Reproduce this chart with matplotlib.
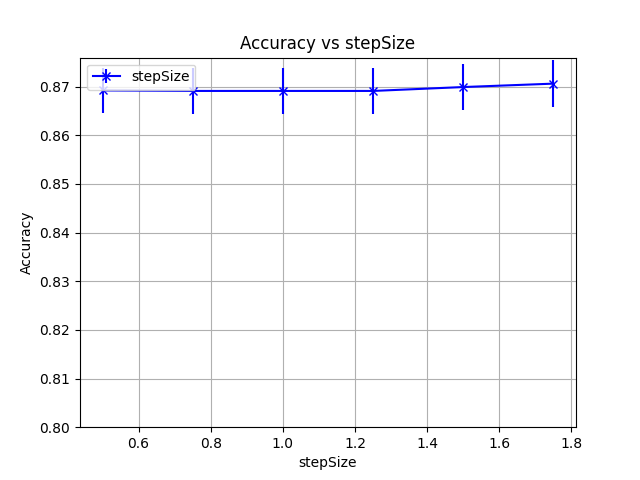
import numpy as np
import matplotlib
matplotlib.use("Agg")
import matplotlib.pyplot as plt

step_size = [0.5, 0.75, 1.0, 1.25, 1.5, 1.75]
accuracy = [0.8692, 0.8691, 0.8691, 0.8691, 0.8699, 0.8706]
acc_std = [0.0047, 0.0047, 0.0047, 0.0047, 0.0047, 0.0048]

fig = plt.figure(figsize=(6.4, 4.8), dpi=100)
plt.errorbar(step_size, accuracy, yerr=acc_std, color='blue', marker='x',
             label='stepSize')
plt.ylim(bottom=0.80)
plt.title('Accuracy vs stepSize')
plt.xlabel('stepSize')
plt.ylabel('Accuracy')
plt.legend(loc='upper left')
plt.grid(True)
plt.savefig('out.png')
